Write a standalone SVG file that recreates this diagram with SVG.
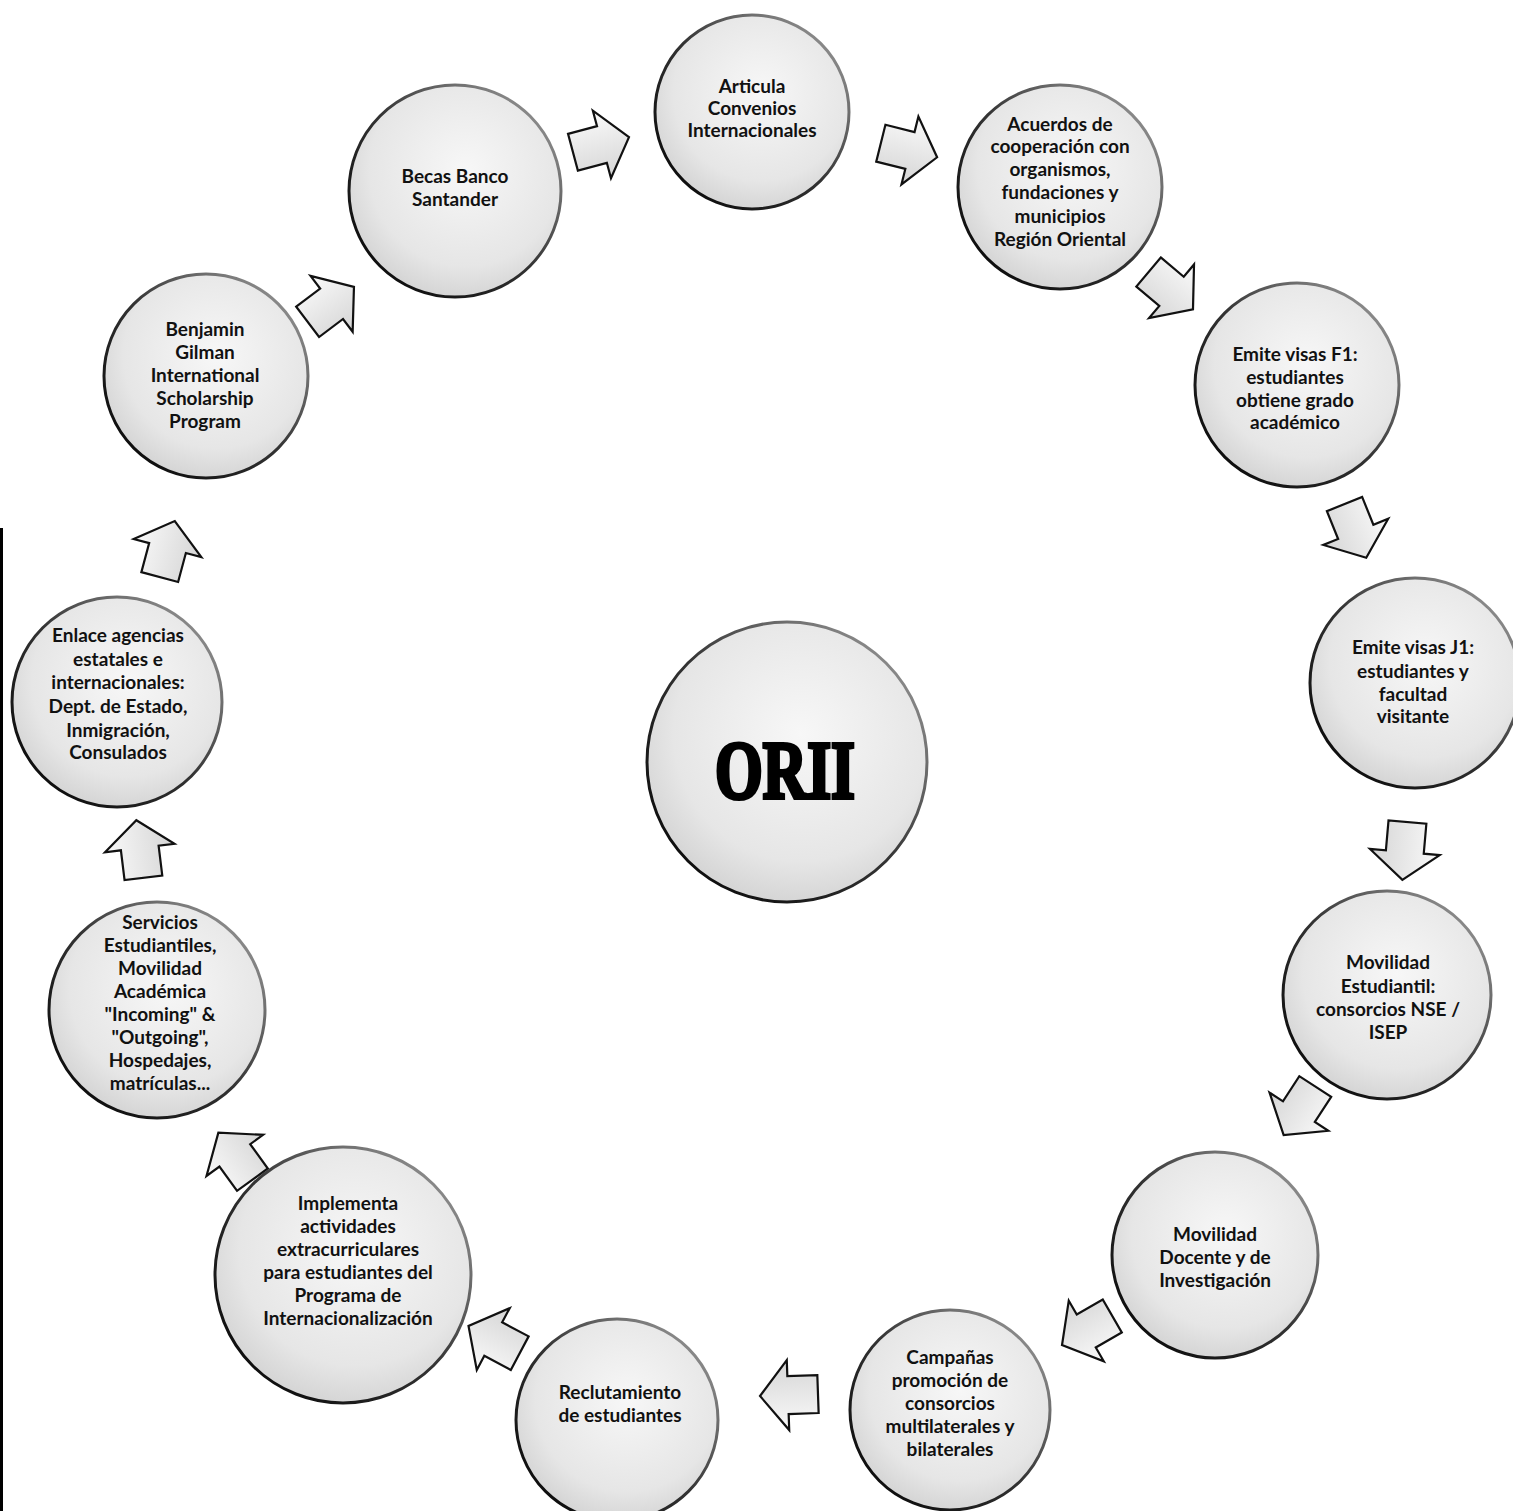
<svg xmlns="http://www.w3.org/2000/svg" width="1513" height="1511" viewBox="0 0 1513 1511">
<defs>
<radialGradient id="fill" cx="0.55" cy="0.4" r="0.65">
<stop offset="0" stop-color="#f7f7f7"/>
<stop offset="0.7" stop-color="#e6e6e6"/>
<stop offset="1" stop-color="#d0d0d0"/>
</radialGradient>
<linearGradient id="rim" x1="0" y1="1" x2="1" y2="0">
<stop offset="0" stop-color="#000"/>
<stop offset="0.5" stop-color="#333"/>
<stop offset="1" stop-color="#aaa"/>
</linearGradient>
<linearGradient id="afill" x1="0" y1="0" x2="0" y2="1">
<stop offset="0" stop-color="#fafafa"/>
<stop offset="1" stop-color="#d5d5d5"/>
</linearGradient>
<polygon id="arrow" points="-28,-19 2,-19 2,-35 30,0 2,35 2,19 -28,19"/>
</defs>
<style>
.node circle{fill:url(#fill);stroke:url(#rim);stroke-width:3}
.node text{font-family:Lato,"Open Sans","Liberation Sans",sans-serif;font-weight:bold;font-size:19px;fill:#111;text-anchor:middle}
.conn use{fill:url(#afill);stroke:#111;stroke-width:2.2;stroke-linejoin:miter}
.center text{font-family:"Liberation Serif",serif;font-weight:900;font-size:82px;fill:#000;stroke:#000;stroke-width:4;text-anchor:middle}
</style>
<rect width="1513" height="1511" fill="#fff"/>
<line x1="1.5" y1="528" x2="1.5" y2="1511" stroke="#000" stroke-width="3"/>

<g id="connectors" class="conn">
<use href="#arrow" transform="translate(600,145) rotate(-15)"/>
<use href="#arrow" transform="translate(908,150) rotate(14)"/>
<use href="#arrow" transform="translate(1170,290) rotate(40)"/>
<use href="#arrow" transform="translate(1355,530) rotate(68)"/>
<use href="#arrow" transform="translate(1405,850) rotate(95)"/>
<use href="#arrow" transform="translate(1300,1110) rotate(123)"/>
<use href="#arrow" transform="translate(1088,1330) rotate(150)"/>
<use href="#arrow" transform="translate(790,1395) rotate(178)"/>
<use href="#arrow" transform="translate(495,1340) rotate(208)"/>
<use href="#arrow" transform="translate(236,1157) rotate(234)"/>
<use href="#arrow" transform="translate(140,850) rotate(263)"/>
<use href="#arrow" transform="translate(167,550) rotate(285)"/>
<use href="#arrow" transform="translate(330,305) rotate(323)"/>
</g>

<g id="orii" class="node center">
<circle cx="787" cy="762" r="140"/>
<text x="785" y="798" textLength="140" lengthAdjust="spacingAndGlyphs">ORII</text>
</g>

<g id="n1" class="node">
<circle cx="752" cy="112" r="97"/>
<text x="752" y="93">Articula</text>
<text x="752" y="115">Convenios</text>
<text x="752" y="137">Internacionales</text>
</g>

<g id="n2" class="node">
<circle cx="1060" cy="187" r="102"/>
<text x="1060" y="131">Acuerdos de</text>
<text x="1060" y="153">cooperación con</text>
<text x="1060" y="176">organismos,</text>
<text x="1060" y="199">fundaciones y</text>
<text x="1060" y="223">municipios</text>
<text x="1060" y="246">Región Oriental</text>
</g>

<g id="n3" class="node">
<circle cx="1297" cy="385" r="102"/>
<text x="1295" y="361">Emite visas F1:</text>
<text x="1295" y="384">estudiantes</text>
<text x="1295" y="407">obtiene grado</text>
<text x="1295" y="429">académico</text>
</g>

<g id="n4" class="node">
<circle cx="1415" cy="683" r="105"/>
<text x="1413" y="654">Emite visas  J1:</text>
<text x="1413" y="678">estudiantes y</text>
<text x="1413" y="701">facultad</text>
<text x="1413" y="723">visitante</text>
</g>

<g id="n5" class="node">
<circle cx="1387" cy="995" r="104"/>
<text x="1388" y="969">Movilidad</text>
<text x="1388" y="993">Estudiantil:</text>
<text x="1388" y="1016">consorcios NSE /</text>
<text x="1388" y="1039">ISEP</text>
</g>

<g id="n6" class="node">
<circle cx="1215" cy="1255" r="103"/>
<text x="1215" y="1241">Movilidad</text>
<text x="1215" y="1264">Docente y de</text>
<text x="1215" y="1287">Investigación</text>
</g>

<g id="n7" class="node">
<circle cx="950" cy="1410" r="100"/>
<text x="950" y="1364">Campañas</text>
<text x="950" y="1387">promoción de</text>
<text x="950" y="1410">consorcios</text>
<text x="950" y="1433">multilaterales y</text>
<text x="950" y="1456">bilaterales</text>
</g>

<g id="n8" class="node">
<circle cx="617" cy="1420" r="101"/>
<text x="620" y="1399">Reclutamiento</text>
<text x="620" y="1422">de estudiantes</text>
</g>

<g id="n9" class="node">
<circle cx="343" cy="1275" r="128"/>
<text x="348" y="1210">Implementa</text>
<text x="348" y="1233">actividades</text>
<text x="348" y="1256">extracurriculares</text>
<text x="348" y="1279">para estudiantes del</text>
<text x="348" y="1302">Programa de</text>
<text x="348" y="1325">Internacionalización</text>
</g>

<g id="n10" class="node">
<circle cx="157" cy="1010" r="108"/>
<text x="160" y="929">Servicios</text>
<text x="160" y="952">Estudiantiles,</text>
<text x="160" y="975">Movilidad</text>
<text x="160" y="998">Académica</text>
<text x="160" y="1021">"Incoming" &amp;</text>
<text x="160" y="1044">"Outgoing",</text>
<text x="160" y="1067">Hospedajes,</text>
<text x="160" y="1090">matrículas...</text>
</g>

<g id="n11" class="node">
<circle cx="117" cy="702" r="105"/>
<text x="118" y="642">Enlace agencias</text>
<text x="118" y="666">estatales e</text>
<text x="118" y="689">internacionales:</text>
<text x="118" y="713">Dept. de Estado,</text>
<text x="118" y="737">Inmigración,</text>
<text x="118" y="759">Consulados</text>
</g>

<g id="n12" class="node">
<circle cx="206" cy="376" r="102"/>
<text x="205" y="336">Benjamin</text>
<text x="205" y="359">Gilman</text>
<text x="205" y="382">International</text>
<text x="205" y="405">Scholarship</text>
<text x="205" y="428">Program</text>
</g>

<g id="n13" class="node">
<circle cx="455" cy="191" r="106"/>
<text x="455" y="183">Becas Banco</text>
<text x="455" y="206">Santander</text>
</g>
</svg>
